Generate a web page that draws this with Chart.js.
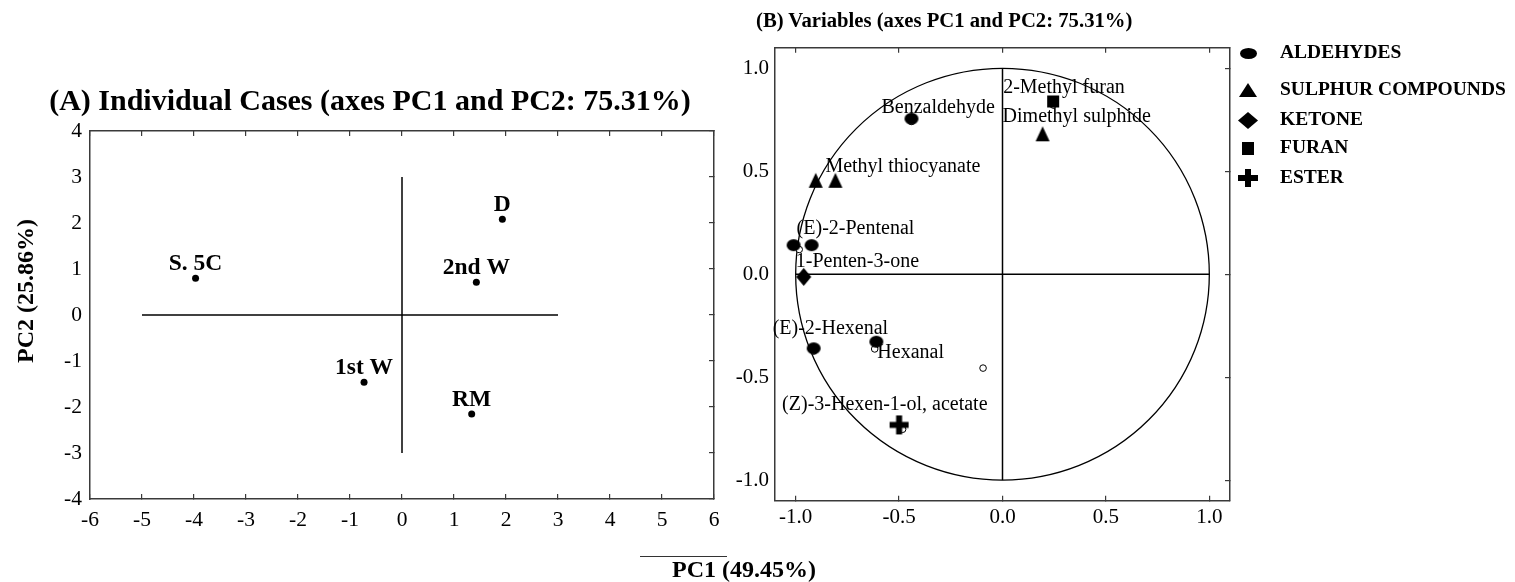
<!DOCTYPE html>
<html>
<head>
<meta charset="utf-8">
<title>PCA plots</title>
<script src="https://cdn.jsdelivr.net/npm/chart.js@4"></script>
<style>
  body { margin: 0; background: #fff; }
  #wrap { position: relative; width: 1515px; height: 582px; overflow: hidden;
          font-family: "Liberation Serif", "Times New Roman", serif; color: #000; }
  #wrap canvas { position: absolute; top: 0; }
  #casesChart { left: 0; }
  #varsChart { left: 720px; }
  .axis-title { position: absolute; font-weight: bold; font-size: 24px; line-height: 1; white-space: nowrap; }
  #pc2Title { left: 25px; top: 291px; transform: translate(-50%, -50%) rotate(-90deg); }
  #pc1Title { left: 744px; top: 569px; transform: translate(-50%, -50%); }
  #pc1Rule { position: absolute; left: 640px; top: 556px; width: 87px; border-top: 1px solid #333; }
  #varsTitle { position: absolute; left: 756px; top: 20px; transform: translateY(-50%);
               font-weight: bold; font-size: 20.7px; line-height: 1; white-space: nowrap; }
</style>
</head>
<body>
<div id="wrap">
  <canvas id="casesChart" width="740" height="582"></canvas>
  <canvas id="varsChart" width="795" height="582"></canvas>
  <div id="varsTitle">(B) Variables (axes PC1 and PC2: 75.31%)</div>
  <div class="axis-title" id="pc2Title">PC2 (25.86%)</div>
  <div id="pc1Rule"></div>
  <div class="axis-title" id="pc1Title">PC1 (49.45%)</div>
</div>
<script>
// (A) scores of the individual cases
const caseNames = ['S. 5C', 'D', '2nd W', '1st W', 'RM'];
const casePC1 = [-3.97, 1.93, 1.43, -0.73, 1.34];
const casePC2 = [0.80, 2.08, 0.71, -1.46, -2.15];
const caseCrossPC1 = [-5, 3];
const caseCrossPC2 = [-3, 3];

// (B) loadings of the volatile compounds, one pair of arrays per class
const classNames = ['ALDEHYDES', 'SULPHUR COMPOUNDS', 'KETONE', 'FURAN', 'ESTER'];
const aldehydePC1 = [-0.44, -1.01, -0.923, -0.913, -0.61];
const aldehydePC2 = [0.755, 0.141, 0.141, -0.36, -0.328];
const sulphurPC1 = [-0.903, -0.808, 0.194];
const sulphurPC2 = [0.456, 0.456, 0.682];
const ketonePC1 = [-0.961];
const ketonePC2 = [-0.013];
const furanPC1 = [0.245];
const furanPC2 = [0.839];
const esterPC1 = [-0.5];
const esterPC2 = [-0.732];
// plain variable points of the loading plot
const loadingPC1 = [-0.44, -0.983, 0.245, -0.913, -0.618, -0.483, -0.094];
const loadingPC2 = [0.742, 0.12, 0.822, -0.373, -0.363, -0.753, -0.456];
const circleCross = [-1, 1];
const circleRadius = 1;

const compoundNames = ['Benzaldehyde', '2-Methyl furan', 'Dimethyl sulphide', 'Methyl thiocyanate',
  '(E)-2-Pentenal', '1-Penten-3-one', '(E)-2-Hexenal', 'Hexanal', '(Z)-3-Hexen-1-ol, acetate'];
// [class dataset, point] each name is written beside
const compoundMarker = [[0, 0], [3, 0], [1, 2], [1, 1], [0, 2], [2, 0], [0, 3], [0, 4], [4, 0]];

// text placement (pixels from the marker)
const compoundOffset = [[-30, -11], [-50, -14], [-40, -17], [-10, -13.5], [-15, -16],
  [-8, -15], [-41, -20], [1, 11], [-117, -20]];
const legendRowY = [53, 90, 120, 148, 178];

const serif = '"Liberation Serif", "Times New Roman", serif';
const axisInk = '#3a3a3a';

function makeMarker(shape, w, h) {
  const c = document.createElement('canvas');
  c.width = Math.ceil(w) + 2;
  c.height = Math.ceil(h) + 2;
  const g = c.getContext('2d');
  const cx = c.width / 2, cy = c.height / 2;
  g.fillStyle = '#000';
  g.beginPath();
  if (shape === 'ellipse') {
    g.ellipse(cx, cy, w / 2, h / 2, 0, 0, Math.PI * 2);
  } else if (shape === 'triangle') {
    g.moveTo(cx, cy - h / 2);
    g.lineTo(cx + w / 2, cy + h / 2);
    g.lineTo(cx - w / 2, cy + h / 2);
    g.closePath();
  } else if (shape === 'diamond') {
    g.moveTo(cx, cy - h / 2);
    g.lineTo(cx + w / 2, cy);
    g.lineTo(cx, cy + h / 2);
    g.lineTo(cx - w / 2, cy);
    g.closePath();
  } else if (shape === 'square') {
    g.rect(cx - w / 2, cy - h / 2, w, h);
  } else if (shape === 'plus') {
    const t = 6;
    g.rect(cx - w / 2, cy - t / 2, w, t);
    g.rect(cx - t / 2, cy - h / 2, t, h);
  }
  g.fill();
  return c;
}

const plotMarkers = [
  makeMarker('ellipse', 14, 12),
  makeMarker('triangle', 14, 15),
  makeMarker('diamond', 15, 18),
  makeMarker('square', 12, 12),
  makeMarker('plus', 19, 19)
];
const legendMarkers = [
  makeMarker('ellipse', 17, 11),
  makeMarker('triangle', 18, 14),
  makeMarker('diamond', 20, 17),
  makeMarker('square', 12, 13),
  makeMarker('plus', 20, 18)
];

const toPoints = (xs, ys) => xs.map((x, i) => ({x: x, y: ys[i]}));

// inward tick marks on the framing axes
function frameAxis(position, min, max, step, fit) {
  return {
    type: 'linear',
    position: position,
    min: min,
    max: max,
    ticks: {display: false, stepSize: step, includeBounds: false},
    grid: {drawOnChartArea: false, tickLength: -5, color: axisInk, lineWidth: 1.2},
    border: {color: axisInk, width: 1.5},
    afterFit: fit
  };
}

// case names above the score points
const caseLabels = {
  id: 'caseLabels',
  afterDatasetsDraw(chart) {
    const ctx = chart.ctx;
    ctx.save();
    ctx.font = 'bold 23.5px ' + serif;
    ctx.fillStyle = '#000';
    ctx.textAlign = 'center';
    ctx.textBaseline = 'alphabetic';
    chart.getDatasetMeta(0).data.forEach((p, i) => {
      ctx.fillText(caseNames[i], p.x, p.y - 8);
    });
    ctx.restore();
  }
};

// correlation circle of radius 1
const unitCircle = {
  id: 'unitCircle',
  beforeDatasetsDraw(chart) {
    const {ctx, scales} = chart;
    const cx = scales.x.getPixelForValue(0);
    const cy = scales.y.getPixelForValue(0);
    const rx = scales.x.getPixelForValue(circleRadius) - cx;
    const ry = cy - scales.y.getPixelForValue(circleRadius);
    ctx.save();
    ctx.beginPath();
    ctx.ellipse(cx, cy, rx, ry, 0, 0, Math.PI * 2);
    ctx.strokeStyle = '#000';
    ctx.lineWidth = 1.3;
    ctx.stroke();
    ctx.restore();
  }
};

// compound names and the class legend
const compoundLabels = {
  id: 'compoundLabels',
  afterDraw(chart) {
    const ctx = chart.ctx;
    const area = chart.chartArea;
    ctx.save();
    ctx.fillStyle = '#000';
    ctx.textAlign = 'left';
    ctx.textBaseline = 'middle';
    ctx.font = '20px ' + serif;
    compoundNames.forEach((name, i) => {
      const [ds, idx] = compoundMarker[i];
      const p = chart.getDatasetMeta(ds).data[idx];
      ctx.fillText(name, p.x + compoundOffset[i][0], p.y + compoundOffset[i][1]);
    });
    ctx.font = 'bold 19.5px ' + serif;
    classNames.forEach((name, i) => {
      const img = legendMarkers[i];
      const y = legendRowY[i];
      ctx.drawImage(img, Math.round(area.right + 18 - img.width / 2), Math.round(y - img.height / 2));
      ctx.fillText(name, area.right + 50, y);
    });
    ctx.restore();
  }
};

new Chart(document.getElementById('casesChart'), {
  type: 'scatter',
  data: {
    datasets: [
      {
        data: toPoints(casePC1, casePC2),
        pointRadius: 3.5,
        pointBackgroundColor: '#000',
        pointBorderWidth: 0
      },
      {
        data: toPoints(caseCrossPC1, [0, 0]),
        showLine: true, borderColor: '#000', borderWidth: 1.5, pointRadius: 0
      },
      {
        data: toPoints([0, 0], caseCrossPC2),
        showLine: true, borderColor: '#000', borderWidth: 1.5, pointRadius: 0
      }
    ]
  },
  options: {
    responsive: false,
    animation: false,
    devicePixelRatio: 1,
    layout: {padding: 0},
    plugins: {
      legend: {display: false},
      tooltip: {enabled: false},
      title: {
        display: true,
        text: '(A) Individual Cases (axes PC1 and PC2: 75.31%)',
        color: '#000',
        font: {family: serif, size: 30, weight: 'bold'},
        padding: {top: 84.5, bottom: 10.5}
      }
    },
    scales: {
      x: {
        type: 'linear', position: 'bottom', min: -6, max: 6,
        ticks: {stepSize: 1, color: '#000', font: {family: serif, size: 21.5}, padding: 13.5, maxRotation: 0},
        grid: {drawOnChartArea: false, tickLength: -5, color: axisInk, lineWidth: 1.2},
        border: {color: axisInk, width: 1.5},
        afterFit: s => { s.height = 83; }
      },
      y: {
        type: 'linear', position: 'left', min: -4, max: 4,
        ticks: {stepSize: 1, color: '#000', font: {family: serif, size: 21.5}, padding: 8},
        grid: {display: false, drawTicks: false},
        border: {color: axisInk, width: 1.5},
        afterFit: s => { s.width = 90; }
      },
      x2: frameAxis('top', -6, 6, 1, s => { s.height = 0; }),
      y2: frameAxis('right', -4, 4, 1, s => { s.width = 26; })
    }
  },
  plugins: [caseLabels]
});

const classPC1 = [aldehydePC1, sulphurPC1, ketonePC1, furanPC1, esterPC1];
const classPC2 = [aldehydePC2, sulphurPC2, ketonePC2, furanPC2, esterPC2];

new Chart(document.getElementById('varsChart'), {
  type: 'scatter',
  data: {
    datasets: classNames.map((name, i) => ({
      label: name,
      data: toPoints(classPC1[i], classPC2[i]),
      pointStyle: plotMarkers[i],
      pointRadius: 6
    })).concat([
      {
        label: 'variables',
        data: toPoints(loadingPC1, loadingPC2),
        pointRadius: 3.3,
        pointBackgroundColor: '#fff',
        pointBorderColor: '#000',
        pointBorderWidth: 1
      },
      {
        data: toPoints(circleCross, [0, 0]),
        showLine: true, borderColor: '#000', borderWidth: 1.5, pointRadius: 0
      },
      {
        data: toPoints([0, 0], circleCross),
        showLine: true, borderColor: '#000', borderWidth: 1.5, pointRadius: 0
      }
    ])
  },
  options: {
    responsive: false,
    animation: false,
    devicePixelRatio: 1,
    layout: {padding: {left: 0, right: 285, top: 47.7, bottom: 0}},
    plugins: {
      legend: {display: false},
      tooltip: {enabled: false},
      title: {display: false}
    },
    scales: {
      x: {
        type: 'linear', position: 'bottom', min: -1.1, max: 1.1,
        ticks: {stepSize: 0.5, includeBounds: false, color: '#000', font: {family: serif, size: 21},
          padding: 8.8, maxRotation: 0, callback: v => v.toFixed(1)},
        grid: {drawOnChartArea: false, tickLength: -5, color: axisInk, lineWidth: 1.2},
        border: {color: axisInk, width: 1.5},
        afterFit: s => { s.height = 81.3; }
      },
      y: {
        type: 'linear', position: 'left', min: -1.1, max: 1.1,
        ticks: {stepSize: 0.5, includeBounds: false, color: '#000', font: {family: serif, size: 21},
          padding: 6, callback: v => v.toFixed(1)},
        grid: {display: false, drawTicks: false},
        border: {color: axisInk, width: 1.5},
        afterFit: s => { s.width = 55; }
      },
      x2: frameAxis('top', -1.1, 1.1, 0.5, s => { s.height = 0; }),
      y2: frameAxis('right', -1.1, 1.1, 0.5, s => { s.width = 0; })
    }
  },
  plugins: [unitCircle, compoundLabels]
});
</script>
</body>
</html>
